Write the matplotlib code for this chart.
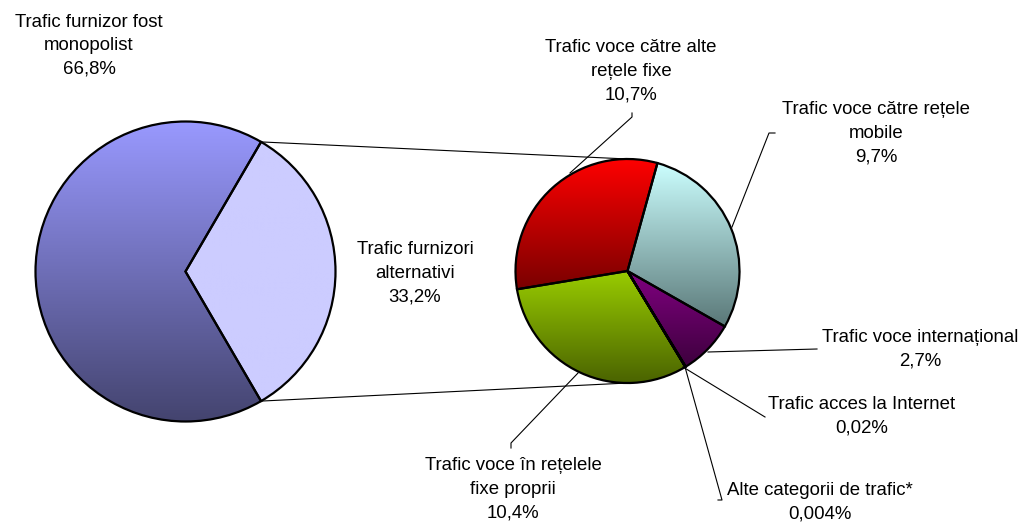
"""Pie-of-pie chart: traffic structure, incumbent vs alternative providers."""

import numpy as np
import matplotlib
matplotlib.use('Agg')
import matplotlib.pyplot as plt
from matplotlib.colors import LinearSegmentedColormap

W, H = 1025, 522

outer_labels = ['Trafic furnizor fost\nmonopolist', 'Trafic furnizori\nalternativi']
outer_values = [66.8, 33.2]
outer_pct = ['66,8%', '33,2%']

inner_labels = ['Trafic voce către rețele\nmobile',
                'Trafic voce internațional',
                'Trafic acces la Internet',
                'Alte categorii de trafic*',
                'Trafic voce în rețelele\nfixe proprii',
                'Trafic voce către alte\nrețele fixe']
inner_values = [9.7, 2.7, 0.02, 0.004, 10.4, 10.7]
inner_pct = ['9,7%', '2,7%', '0,02%', '0,004%', '10,4%', '10,7%']

outer_grad = [('#9999ff', '#44446f'), ('#ccccff', '#ccccff')]
inner_grad = [('#ccffff', '#5a7878'), ('#800080', '#3d003d'), ('#808080', '#404040'),
              ('#808080', '#404040'), ('#99cc00', '#4a6300'), ('#ff0000', '#7a0000')]

plt.rcParams['font.family'] = ['Liberation Sans', 'DejaVu Sans']

fig = plt.figure(figsize=(W / 100, H / 100), dpi=100)
ax = fig.add_axes([0, 0, 1, 1])


def Y(py):
    return H - py


c1, r1 = (185.5, Y(271.5)), 150
c2, r2 = (627.5, Y(271)), 112

w_out, _ = ax.pie(outer_values, center=c1, radius=r1, startangle=59.76,
                  counterclock=True, frame=True,
                  wedgeprops=dict(edgecolor='black', linewidth=1.6))
w_in, _ = ax.pie(inner_values, center=c2, radius=r2, startangle=74.5,
                 counterclock=False, frame=True,
                 wedgeprops=dict(edgecolor='black', linewidth=1.6))

grad = np.linspace(0, 1, 256).reshape(-1, 1)
for wedges, cols in [(w_out, outer_grad), (w_in, inner_grad)]:
    for w, (top, bottom) in zip(wedges, cols):
        ext = w.get_path().get_extents()
        cmap = LinearSegmentedColormap.from_list('g', [bottom, top])
        im = ax.imshow(grad, cmap=cmap, origin='lower', aspect='auto',
                       extent=[ext.x0, ext.x1, ext.y0, ext.y1], zorder=1.5,
                       interpolation='bilinear')
        im.set_clip_path(w)
        w.set_facecolor('none')
        w.set_zorder(2)

# connector lines between the two pies
t = np.deg2rad(w_out[1].theta1)
x_a = c1[0] + r1 * np.cos(t)
dy = r1 * abs(np.sin(t))
ax.plot([x_a, c2[0]], [c1[1] + dy, c2[1] + r2], color='black', lw=0.8, zorder=1)
ax.plot([x_a, c2[0]], [c1[1] - dy, c2[1] - r2], color='black', lw=0.8, zorder=1)

fs = 13.4
ls = 1.5
ax.text(89, Y(46), f'{outer_labels[0]}\n{outer_pct[0]}', ha='center', va='center',
        fontsize=fs, linespacing=ls)
ax.text(415, Y(273), f'{outer_labels[1]}\n{outer_pct[1]}', ha='center', va='center',
        fontsize=fs, linespacing=ls)

label_pos = [(876, 133), (920, 349), (862, 416), (820, 502), (513, 489), (631, 71)]
leaders = [
    [(775, 133), (769, 133), (732, 227)],
    [(817, 349), (708, 352)],
    [(765, 417), (683, 367)],
    [(718, 500), (722, 500), (685, 367)],
    [(511, 448), (511, 443), (578, 373)],
    [(632, 113), (632, 117), (570, 173)],
]
for lab, pct, (px, py), pts in zip(inner_labels, inner_pct, label_pos, leaders):
    ax.text(px, Y(py), f'{lab}\n{pct}', ha='center', va='center',
            fontsize=fs, linespacing=ls)
    xs = [p[0] for p in pts]
    ys = [Y(p[1]) for p in pts]
    ax.plot(xs, ys, color='black', lw=0.8, zorder=3)

ax.set_xlim(0, W)
ax.set_ylim(0, H)
ax.set_aspect('auto')
ax.axis('off')
fig.savefig('out.png', dpi=100)
